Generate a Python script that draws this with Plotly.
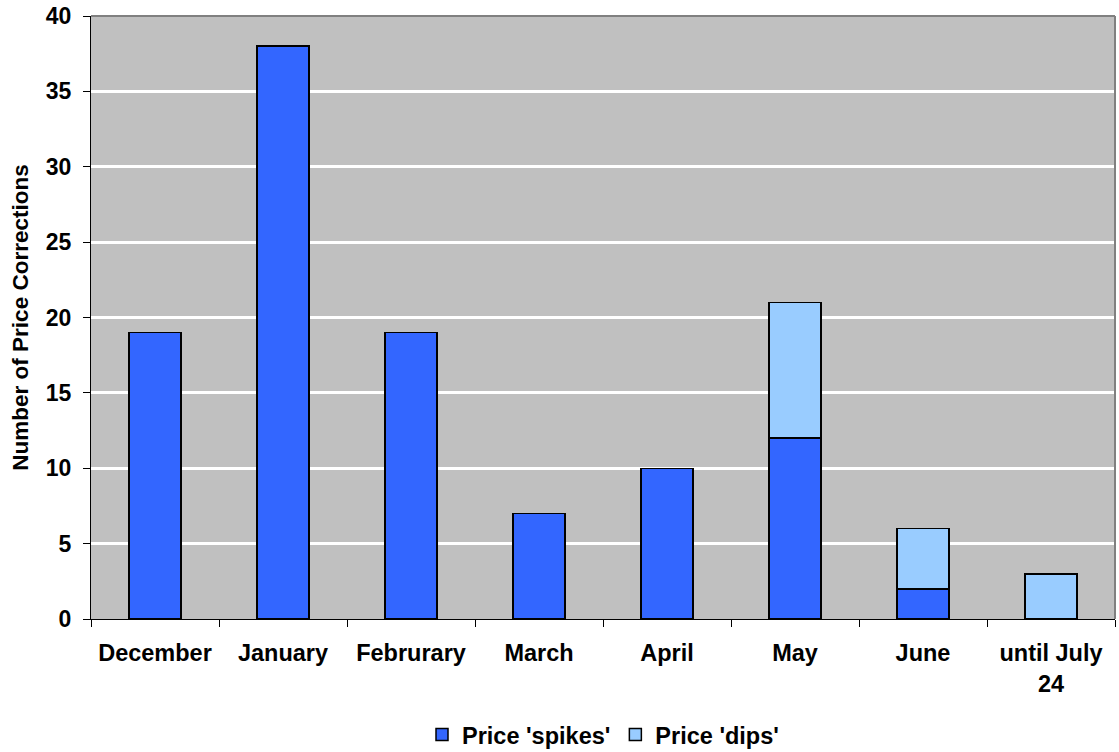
import plotly.graph_objects as go

months = ["December", "January", "Februrary", "March", "April", "May", "June", "until July<br>24"]
spikes = [19, 38, 19, 7, 10, 12, 2, 0]
dips = [0, 0, 0, 0, 0, 9, 4, 3]
y_ticks = [0, 5, 10, 15, 20, 25, 30, 35, 40]

FONT = "Arial, 'Liberation Sans', sans-serif"

fig = go.Figure()
fig.add_trace(go.Bar(
    x=months, y=spikes, name="Price 'spikes'",
    marker=dict(color="#3366FF", line=dict(color="black", width=1.5)),
    width=0.41,
))
fig.add_trace(go.Bar(
    x=months, y=dips, name="Price 'dips'",
    marker=dict(color="#99CCFF", line=dict(color="black", width=1.5)),
    width=0.41,
))

fig.update_layout(
    barmode="stack",
    width=1119, height=752,
    margin=dict(l=91, r=4, t=16, b=133, autoexpand=False),
    paper_bgcolor="white",
    plot_bgcolor="#C0C0C0",
    font=dict(family=FONT, size=22, color="black", weight="bold"),
    showlegend=True,
    legend=dict(
        orientation="h", x=0.5, xanchor="center", y=-0.192, yanchor="middle",
        font=dict(size=23.5, weight="bold"), traceorder="normal",
        itemwidth=30, tracegroupgap=0,
    ),
    xaxis=dict(
        showgrid=False, tickson="boundaries", ticks="outside", ticklen=7,
        tickcolor="black", showline=True, linecolor="black", linewidth=1,
        tickfont=dict(size=23.5, weight="bold"), ticklabelstandoff=13,
    ),
    yaxis=dict(
        range=[0, 40], tickvals=y_ticks, ticks="outside", ticklen=7,
        tickcolor="black", showline=True, linecolor="black", linewidth=1,
        showgrid=True, gridcolor="white", gridwidth=3,
        tickfont=dict(size=23, weight="bold"), ticklabelstandoff=7,
        title=dict(text="Number of Price Corrections", font=dict(size=22.5, weight="bold"), standoff=10),
        zeroline=False,
    ),
)

# gray frame on the top and right edges of the plotting area
fig.add_shape(type="line", xref="paper", yref="paper", x0=0, x1=1, y0=1, y1=1,
              line=dict(color="#808080", width=2))
fig.add_shape(type="line", xref="paper", yref="paper", x0=1, x1=1, y0=0, y1=1,
              line=dict(color="#808080", width=2))

fig.write_html("out.html")
